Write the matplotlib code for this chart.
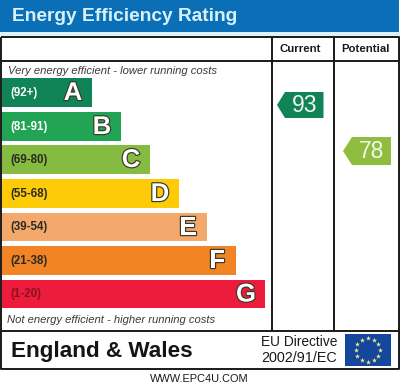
import numpy as np
import matplotlib
matplotlib.use("Agg")
import matplotlib.pyplot as plt
import matplotlib.patheffects as pe
from matplotlib.patches import Polygon, Rectangle

plt.rcParams['font.family'] = ['Liberation Sans', 'DejaVu Sans']

bands = ['(92+)', '(81-91)', '(69-80)', '(55-68)', '(39-54)', '(21-38)', '(1-20)']
letters = ['A', 'B', 'C', 'D', 'E', 'F', 'G']
bar_right = [92, 121, 150, 179, 207, 236, 265]
bar_top = [78, 112, 145, 179, 213, 246, 280]
bar_bottom = [107, 141, 174, 208, 241, 275, 308]
bar_colors = ['#108457', '#22a455', '#85bb41', '#fdcb08', '#f3a86c', '#f28426', '#ed1c3c']
band_text = ['#ffffff', '#ffffff', '#2a2a20', '#2a2a20', '#2a2a20', '#2a2a20', '#8a1020']
current = 93
potential = 78

fig = plt.figure(figsize=(4.0, 3.88), dpi=100, facecolor='white')
ax = fig.add_axes([0, 0, 1, 1])
ax.set_xlim(0, 400)
ax.set_ylim(388, 0)
ax.axis('off')

ax.add_patch(Rectangle((0, 0), 399, 32, fc='#0b6fb8', ec='none'))
ax.add_patch(Rectangle((0, 32), 400, 4, fc='#dff1f8', ec='none'))
ax.text(11.5, 16.5, 'Energy Efficiency Rating', color='#d8f1f8', fontsize=13.8,
        fontweight='bold', va='center', ha='left')

line = dict(color='#1a1a1a', lw=1.4, solid_capstyle='butt')
ax.plot([1, 399, 399, 1, 1], [37, 37, 369, 369, 37], **line)
ax.plot([1, 399], [61, 61], **line)
ax.plot([1, 399], [331, 331], **line)
ax.plot([272, 272], [37, 331], **line)
ax.plot([334, 334], [37, 331], **line)

ax.text(300, 49, 'Current', fontsize=8.2, fontweight='bold', ha='center', va='center', color='#1a1a1a')
ax.text(365.5, 49, 'Potential', fontsize=8.2, fontweight='bold', ha='center', va='center', color='#1a1a1a')

ax.text(7.5, 70.5, 'Very energy efficient - lower running costs', fontsize=8.1, style='italic',
        color='#3a3a3a', ha='left', va='center')
ax.text(7, 320, 'Not energy efficient - higher running costs', fontsize=8.1, style='italic',
        color='#3a3a3a', ha='left', va='center')

for b, l, r, t, bt, c, tc in zip(bands, letters, bar_right, bar_top, bar_bottom, bar_colors, band_text):
    ax.barh((t + bt) / 2, r - 2, height=bt - t, left=2, color=c, edgecolor='none')
    ax.text(10, (t + bt) / 2 + 0.3, b, fontsize=8.3, fontweight='bold', color=tc, ha='left', va='center')
    ax.text(r - 19, (t + bt) / 2 + 0.5, l, fontsize=18.5, color='white', ha='center', va='center', fontweight='bold',
            path_effects=[pe.withStroke(linewidth=1.7, foreground='#3a3a2a')])

def arrow(value, xl, xn, xr, yt, yb, color):
    ym = (yt + yb) / 2
    ax.add_patch(Polygon([(xl, ym), (xn, yt), (xr, yt), (xr, yb), (xn, yb)], closed=True, fc=color, ec='none'))
    ax.text((xn + xr) / 2 + 0.5, ym, str(value), fontsize=16.5, color='#f2f7ea', ha='center', va='center')

arrow(current, 277, 285, 323.5, 92, 118, '#108457')
arrow(potential, 343, 352, 391, 137, 165, '#8fbd3f')

ax.text(11, 351, 'England & Wales', fontsize=16.2, fontweight='bold', color='#141414', ha='left', va='center')
ax.text(299, 342, 'EU Directive', fontsize=9.9, color='#1a1a1a', ha='center', va='center')
ax.text(299.5, 358, '2002/91/EC', fontsize=10.4, color='#1a1a1a', ha='center', va='center')

ax.add_patch(Rectangle((345, 334), 46, 32, fc='#14479c', ec='none'))
ang = np.deg2rad(np.arange(0, 360, 30))
ax.scatter(367.5 + 12 * np.cos(ang), 350 + 12 * np.sin(ang), marker='*', s=14, color='#f5ec8a', linewidths=0)

ax.text(199.5, 379, 'WWW.EPC4U.COM', fontsize=7.9, color='#1a1a1a', ha='center', va='center')

fig.savefig('out.png', dpi=100, facecolor='white')
